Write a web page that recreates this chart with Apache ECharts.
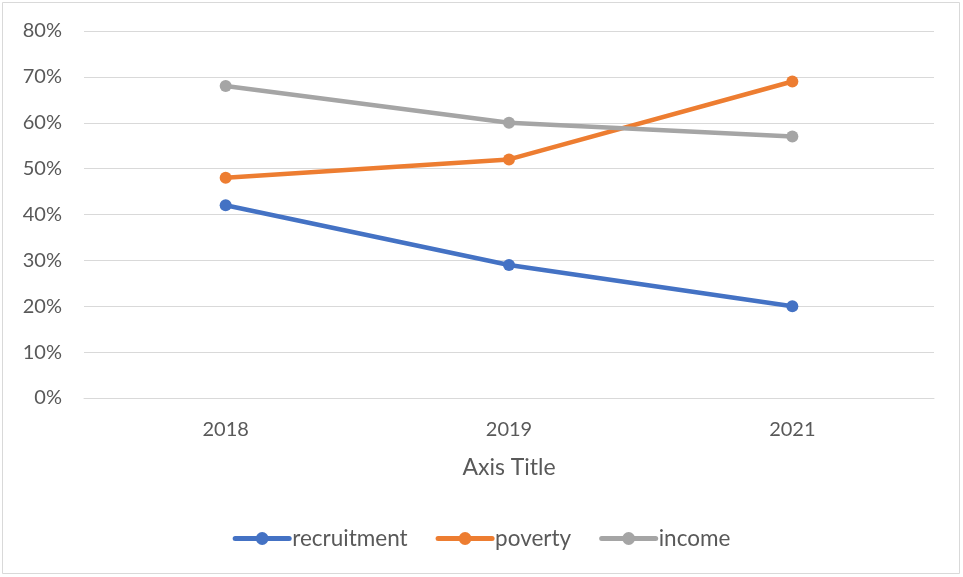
<!DOCTYPE html>
<html><head><meta charset="utf-8">
<script src="https://cdn.jsdelivr.net/npm/echarts@6/dist/echarts.min.js"></script>
<style>html,body{margin:0;padding:0;background:#fff}#c{width:963px;height:577px}</style>
</head><body><div id="c"></div>
<script>
const categories = ['2018', '2019', '2021'];
const recruitment = [42, 29, 20];
const poverty = [48, 52, 69];
const income = [68, 60, 57];
const yTicks = [0, 10, 20, 30, 40, 50, 60, 70, 80];

const font = 'Lato, "Open Sans", sans-serif';
const chart = echarts.init(document.getElementById('c'));
function s(name, data, color) {
  return {name, type: 'line', data, symbol: 'circle', symbolSize: 12,
    lineStyle: {width: 4.5, color, cap: 'round'}, itemStyle: {color}, z: 3};
}
chart.setOption({
  animation: false,
  backgroundColor: '#fff',
  graphic: [{type: 'rect', shape: {x: 2.5, y: 2.5, width: 957, height: 571}, style: {fill: 'none', stroke: '#d9d9d9', lineWidth: 1}}],
  grid: {left: 84, right: 29, top: 31, bottom: 179, containLabel: false},
  xAxis: {type: 'category', data: categories, boundaryGap: true,
    axisLine: {lineStyle: {color: '#d9d9d9', width: 1}}, axisTick: {show: false},
    axisLabel: {color: '#595959', fontSize: 20, fontFamily: font, margin: 22},
    name: 'Axis Title', nameLocation: 'middle', nameGap: 58,
    nameTextStyle: {color: '#595959', fontSize: 23, fontFamily: font}},
  yAxis: {type: 'value', min: 0, max: 80, interval: 10,
    axisLine: {show: false}, axisTick: {show: false},
    splitLine: {lineStyle: {color: '#d9d9d9', width: 1}},
    axisLabel: {color: '#595959', fontSize: 20, fontFamily: font, margin: 22,
      formatter: v => yTicks.includes(v) ? v + '%' : ''}},
  legend: {bottom: 22, left: 'center', itemWidth: 54, itemHeight: 16, itemGap: 28,
    lineStyle: {width: 5, cap: 'round'},
    textStyle: {color: '#595959', fontSize: 22.5, fontFamily: font, padding: [0, 0, 0, -2]},
    data: ['recruitment', 'poverty', 'income']},
  series: [s('recruitment', recruitment, '#4472c4'), s('poverty', poverty, '#ed7d31'), s('income', income, '#a5a5a5')]
});
</script></body></html>
